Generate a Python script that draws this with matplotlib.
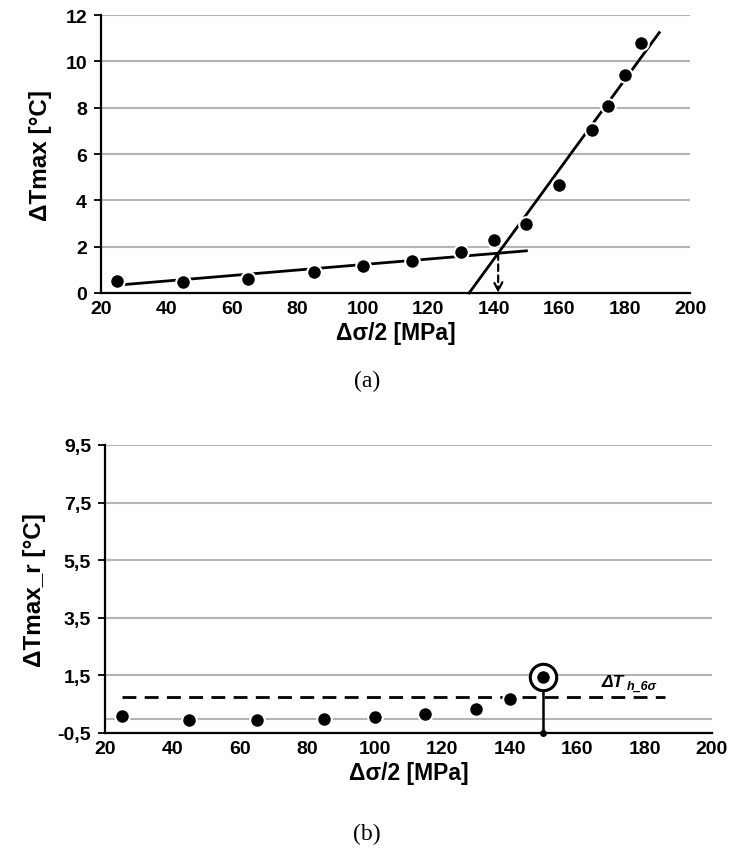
import matplotlib
matplotlib.use("Agg")
import matplotlib.pyplot as plt
from matplotlib import font_manager as fm
import numpy as np

# ---------------- data ----------------
# (a) max temperature increment vs stress amplitude
stress_a = [25, 45, 65, 85, 100, 115, 130, 140, 150, 160, 170, 175, 180, 185]
dT_max = [0.53, 0.46, 0.60, 0.92, 1.18, 1.39, 1.75, 2.30, 2.96, 4.68, 7.04, 8.07, 9.40, 10.80]
# trend lines (x range, y values)
low_line_x = [25, 150]
low_line_y = [0.34, 1.82]
high_line_x = [132.5, 190.6]
high_line_y = [0.0, 11.24]
yticks_a = [0, 2, 4, 6, 8, 10, 12]
xticks = [20, 40, 60, 80, 100, 120, 140, 160, 180, 200]

# (b) residual temperature increment
stress_b = [25, 45, 65, 85, 100, 115, 130, 140, 150]
dT_max_r = [0.08, -0.05, -0.04, -0.01, 0.05, 0.16, 0.33, 0.68, 1.43]
threshold = 0.76
threshold_x = [25, 186]
yticks_b = [-0.5, 1.5, 3.5, 5.5, 7.5, 9.5]
yticklabels_b = ["-0,5", "1,5", "3,5", "5,5", "7,5", "9,5"]

# ---------------- fonts ----------------
names = {f.name for f in fm.fontManager.ttflist}
tick_font = "Liberation Sans Narrow" if "Liberation Sans Narrow" in names else "Liberation Sans"
label_font = "Liberation Sans"
serif_font = "Liberation Serif"

W, H = 733, 862
fig = plt.figure(figsize=(W / 100, H / 100), dpi=100)

def ax_rect(l, t, r, b):
    return [l / W, 1 - b / H, (r - l) / W, (b - t) / H]

grid_c = "#b4b4b4"

def style(ax):
    for s in ["top", "right"]:
        ax.spines[s].set_visible(False)
    ax.spines["left"].set_linewidth(1.6)
    ax.spines["bottom"].set_linewidth(1.6)
    ax.tick_params(axis="x", length=0, pad=5)
    ax.tick_params(axis="y", length=5, width=1.3, direction="out", pad=5)
    for lab in ax.get_xticklabels() + ax.get_yticklabels():
        lab.set_fontfamily(tick_font)
        lab.set_fontweight("bold")
        lab.set_fontsize(14)

# ---------- (a) ----------
ax1 = fig.add_axes(ax_rect(101, 16, 690, 294))
ax1.set_xlim(20, 200)
ax1.set_ylim(0, 12)
for g in yticks_a[1:]:
    ax1.axhline(g, color=grid_c, lw=1.5, zorder=0)
ax1.plot(low_line_x, low_line_y, color="black", lw=2, zorder=2)
ax1.plot(high_line_x, high_line_y, color="black", lw=2, zorder=2, clip_on=False)
ax1.plot(stress_a, dT_max, "o", color="black", ms=10.5, mec="white", mew=1.5, zorder=3)

# intersection of the two trend lines -> dashed arrow
p_low = np.polyfit(low_line_x, low_line_y, 1)
p_high = np.polyfit(high_line_x, high_line_y, 1)
xi = (p_low[1] - p_high[1]) / (p_high[0] - p_low[0])
yi = np.polyval(p_low, xi)
ax1.annotate("", xy=(xi, 0.0), xytext=(xi, yi),
             arrowprops=dict(arrowstyle="->", linestyle=(0, (3, 2)), lw=1.6,
                             color="black", shrinkA=0, shrinkB=0,
                             mutation_scale=15), zorder=4)
ax1.set_xticks(xticks)
ax1.set_yticks(yticks_a)
style(ax1)
ax1.set_ylabel("ΔTmax [°C]", fontfamily=label_font, fontweight="bold", fontsize=17.5, labelpad=10)
ax1.set_xlabel("Δσ/2 [MPa]", fontfamily=label_font, fontweight="bold", fontsize=16.5, labelpad=3)
fig.text(367 / W, 1 - 381 / H, "(a)", fontfamily=serif_font, fontsize=17, ha="center", va="center")

# ---------- (b) ----------
ax2 = fig.add_axes(ax_rect(105, 446, 712, 734))
ax2.set_xlim(20, 200)
ax2.set_ylim(-0.5, 9.5)
for g in yticks_b[1:] + [0.0]:
    ax2.axhline(g, color=grid_c, lw=1.5, zorder=0)
ax2.plot(threshold_x, [threshold, threshold], color="black", lw=2,
         linestyle=(0, (5, 3)), zorder=2)
# marked point at the last stress level
x_last, y_last = stress_b[-1], dT_max_r[-1]
ax2.plot([x_last, x_last], [-0.5, y_last - 0.4], color="black", lw=1.8, zorder=2)
ax2.plot([x_last], [-0.5], "o", color="black", ms=4, zorder=3, clip_on=False)
ax2.plot([x_last], [y_last], "o", mfc="white", mec="black", ms=19, mew=2.2, zorder=3)
ax2.plot(stress_b, dT_max_r, "o", color="black", ms=10.5, mec="white", mew=1.5, zorder=4)
ax2.text(167.3, 1.3, "ΔT", fontfamily=label_font, fontweight="bold", fontstyle="italic",
         fontsize=12.5, ha="left", va="center")
ax2.text(174.8, 1.14, "h_6σ", fontfamily=label_font, fontweight="bold", fontstyle="italic",
         fontsize=9, ha="left", va="center")
ax2.set_xticks(xticks)
ax2.set_yticks(yticks_b)
ax2.set_yticklabels(yticklabels_b)
style(ax2)
ax2.set_ylabel("ΔTmax_r [°C]", fontfamily=label_font, fontweight="bold", fontsize=17.5, labelpad=8)
ax2.set_xlabel("Δσ/2 [MPa]", fontfamily=label_font, fontweight="bold", fontsize=16.5, labelpad=3)
fig.text(367 / W, 1 - 834 / H, "(b)", fontfamily=serif_font, fontsize=17, ha="center", va="center")

fig.savefig("out.png", dpi=100)
